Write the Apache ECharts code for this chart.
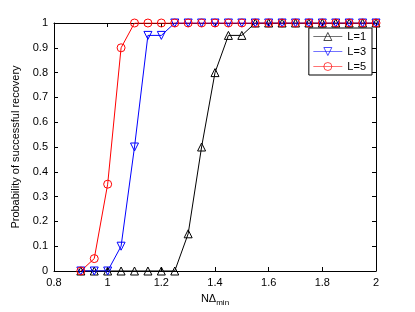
<!DOCTYPE html>
<html><head><meta charset="utf-8">
<script src="https://cdn.jsdelivr.net/npm/echarts@6/dist/echarts.min.js"></script>
<style>html,body{margin:0;padding:0;background:#fff}#c{width:415px;height:312px}</style>
</head><body><div id="c"></div>
<script>
var xValues = [0.9,0.95,1.0,1.05,1.1,1.15,1.2,1.25,1.3,1.35,1.4,1.45,1.5,1.55,1.6,1.65,1.7,1.75,1.8,1.85,1.9,1.95,2.0];
var L1 = [0,0,0,0,0,0,0,0,0.15,0.5,0.8,0.95,0.95,1,1,1,1,1,1,1,1,1,1];
var L3 = [0,0,0,0.1,0.5,0.95,0.95,1,1,1,1,1,1,1,1,1,1,1,1,1,1,1,1];
var L5 = [0,0.05,0.35,0.9,1,1,1,1,1,1,1,1,1,1,1,1,1,1,1,1,1,1,1];
var seriesNames = ['L=1','L=3','L=5'];
var xLabel = 'NΔ';
var xLabelSub = 'min';
var yLabel = 'Probability of successful recovery';

function pairs(ys){ return xValues.map(function(x,i){ return [x, ys[i]]; }); }
var font = 'Liberation Sans, Arial, sans-serif';
function mk(name, ys, color, sym, rot){
  return {
    name: name, type: 'line', data: pairs(ys),
    symbol: sym, symbolSize: 8, symbolRotate: rot, showAllSymbol: true,
    lineStyle: {color: color, width: 1},
    itemStyle: {color: 'rgba(0,0,0,0)', borderColor: color, borderWidth: 1},
    emphasis: {disabled: true}, animation: false
  };
}
var chart = echarts.init(document.getElementById('c'));
chart.setOption({
  animation: false,
  grid: {left: 54, right: 39, top: 23, bottom: 35},
  xAxis: [{
    type: 'value', min: 0.8, max: 2, interval: 0.2,
    axisLine: {onZero: false, lineStyle: {color: '#000', width: 1}},
    axisTick: {inside: true, length: 4, lineStyle: {color: '#000'}},
    axisLabel: {color: '#000', fontFamily: font, fontSize: 11, margin: 6,
      formatter: function(v){ return +v.toFixed(1) + ''; }},
    splitLine: {show: false},
    name: '{n|' + xLabel + '}{s|' + xLabelSub + '}', nameLocation: 'middle', nameGap: 20,
    nameTextStyle: {rich: {n: {fontFamily: font, fontSize: 11, color: '#000'}, s: {fontFamily: font, fontSize: 8, color: '#000', padding: [8,0,0,0]}}}
  },{
    type: 'value', position: 'top', min: 0.8, max: 2, interval: 0.2,
    axisLine: {onZero: false, lineStyle: {color: '#000', width: 1}},
    axisTick: {inside: true, length: 4, lineStyle: {color: '#000'}},
    axisLabel: {show: false}, splitLine: {show: false}
  }],
  yAxis: [{
    type: 'value', min: 0, max: 1, interval: 0.1,
    axisLine: {onZero: false, lineStyle: {color: '#000', width: 1}},
    axisTick: {inside: true, length: 4, lineStyle: {color: '#000'}},
    axisLabel: {color: '#000', fontFamily: font, fontSize: 11, margin: 6,
      formatter: function(v){ return +v.toFixed(1) + ''; }},
    splitLine: {show: false},
    name: yLabel, nameLocation: 'middle', nameGap: 26,
    nameTextStyle: {fontFamily: font, fontSize: 11, color: '#000'}
  },{
    type: 'value', position: 'right', min: 0, max: 1, interval: 0.1,
    axisLine: {onZero: false, lineStyle: {color: '#000', width: 1}},
    axisTick: {inside: true, length: 4, lineStyle: {color: '#000'}},
    axisLabel: {show: false}, splitLine: {show: false}
  }],
  legend: {
    orient: 'vertical', right: 43, top: 28,
    backgroundColor: '#fff', borderColor: '#000', borderWidth: 1,
    padding: [3, 6, 3, 4], itemGap: 4, itemWidth: 29, itemHeight: 10,
    textStyle: {fontFamily: font, fontSize: 11, color: '#000'},
    lineStyle: {width: 1, opacity: 0.55},
    itemStyle: {borderWidth: 1, opacity: 0.7},
    data: seriesNames
  },
  series: [
    mk(seriesNames[0], L1, '#000', 'triangle', 0),
    mk(seriesNames[1], L3, '#0000ff', 'triangle', 180),
    mk(seriesNames[2], L5, '#ff0000', 'circle', 0)
  ]
});
</script></body></html>
